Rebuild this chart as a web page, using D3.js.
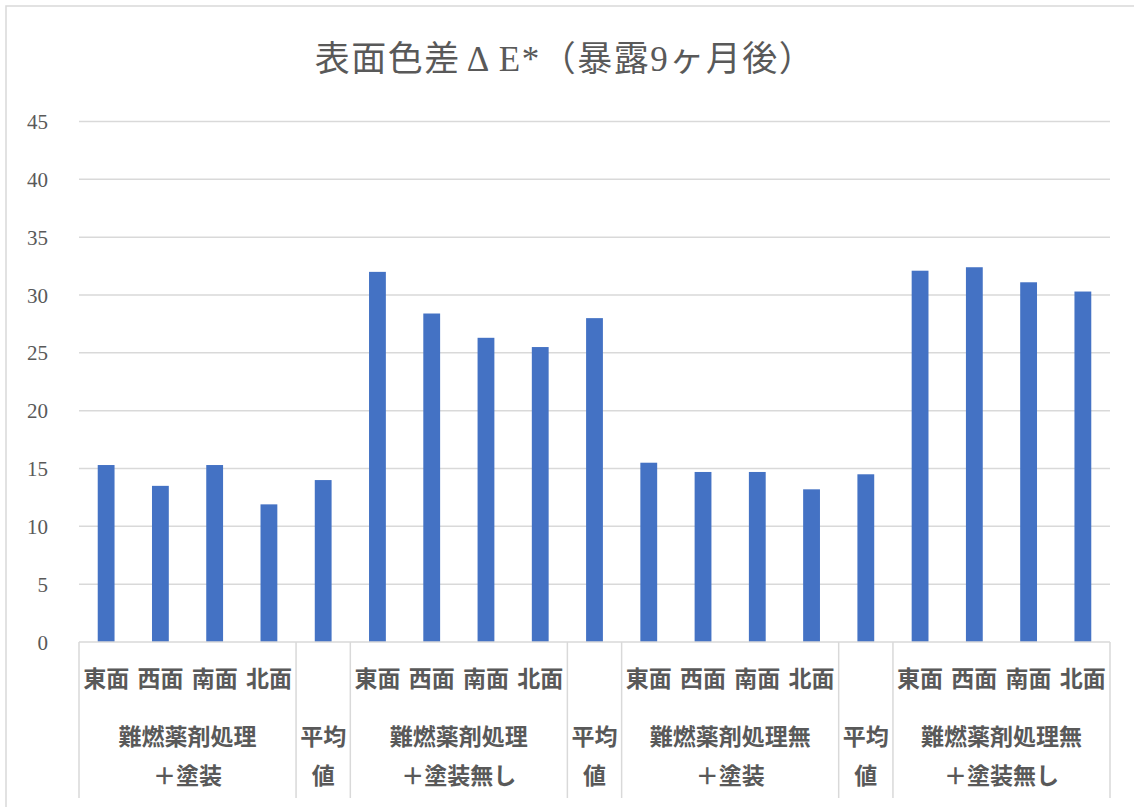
<!DOCTYPE html>
<html lang="ja">
<head>
<meta charset="utf-8">
<script src="https://cdn.jsdelivr.net/npm/d3@7"></script>
<style>
  html, body { margin: 0; padding: 0; background: #fff; }
  svg { display: block; }
  .serif { font-family: "Liberation Serif", "DejaVu Serif", "Noto Sans CJK JP", serif; }
  .sans  { font-family: "Noto Sans CJK JP", "Noto Sans", sans-serif; }
</style>
</head>
<body>
<svg id="chart" width="1134" height="807"></svg>
<script>
// ---- data ----
const titleParts = ["表面色差", "Δ", "E*（暴露9ヶ月後）"];
const faceLabels = ["東面","西面","南面","北面","",
                    "東面","西面","南面","北面","",
                    "東面","西面","南面","北面","",
                    "東面","西面","南面","北面"];
const values = [15.3, 13.5, 15.3, 11.9, 14.0,
                32.0, 28.4, 26.3, 25.5, 28.0,
                15.5, 14.7, 14.7, 13.2, 14.5,
                32.1, 32.4, 31.1, 30.3];
const groupNames = [["難燃薬剤処理", "＋塗装"],
                    ["平均", "値"],
                    ["難燃薬剤処理", "＋塗装無し"],
                    ["平均", "値"],
                    ["難燃薬剤処理無", "＋塗装"],
                    ["平均", "値"],
                    ["難燃薬剤処理無", "＋塗装無し"]];
const groupSizes = [4, 1, 4, 1, 4, 1, 4];
const yTicks = [0, 5, 10, 15, 20, 25, 30, 35, 40, 45];

// ---- layout ----
const W = 1134, H = 807;
const plot = { left: 79, right: 1110, top: 121.5, bottom: 642 };
const axisBottom = 798;
const textColor = "#595959";
const lineColor = "#d9d9d9";
const barColor = "#4472C4";

const svg = d3.select("#chart");

// chart frame
svg.append("rect")
  .attr("x", 6).attr("y", 6)
  .attr("width", W + 20).attr("height", H + 20)
  .attr("fill", "#fff")
  .attr("stroke", lineColor).attr("stroke-width", 1.5);

// title
const titleText = svg.append("text")
  .attr("class", "serif")
  .attr("x", 565).attr("y", 71)
  .attr("text-anchor", "middle")
  .attr("font-size", 35)
  .attr("letter-spacing", 1.5)
  .attr("fill", textColor);
titleText.append("tspan").text(titleParts[0]);
titleText.append("tspan").attr("dx", 6).text(titleParts[1]);
titleText.append("tspan").attr("dx", 8).text(titleParts[2]);

const keys = values.map((_, i) => i);
const x = d3.scaleBand().domain(keys).range([plot.left, plot.right]).padding(0);
const y = d3.scaleLinear().domain([0, 45]).range([plot.bottom, plot.top]);

// gridlines
svg.append("g")
  .selectAll("line")
  .data(yTicks.filter(t => t > 0))
  .join("line")
  .attr("x1", plot.left).attr("x2", plot.right)
  .attr("y1", d => y(d)).attr("y2", d => y(d))
  .attr("stroke", lineColor).attr("stroke-width", 1.5);

// y axis labels
const yAxis = d3.axisLeft(y).tickValues(yTicks).tickSize(0).tickPadding(0);
const yg = svg.append("g")
  .attr("transform", `translate(${plot.left - 31},0)`)
  .call(yAxis);
yg.select(".domain").remove();
yg.selectAll("text")
  .attr("class", "serif")
  .attr("font-size", 21)
  .attr("fill", textColor)
  .attr("dy", "0.34em");

// bars
const barW = x.bandwidth() * 0.31;
svg.append("g")
  .selectAll("rect")
  .data(values)
  .join("rect")
  .attr("x", (d, i) => x(i) + (x.bandwidth() - barW) / 2)
  .attr("width", barW)
  .attr("y", d => y(d))
  .attr("height", d => y(0) - y(d))
  .attr("fill", barColor);

// category axis: baseline and group separators
const axisG = svg.append("g");
axisG.append("line")
  .attr("x1", plot.left).attr("x2", plot.right)
  .attr("y1", y(0)).attr("y2", y(0))
  .attr("stroke", lineColor).attr("stroke-width", 1.5);

const groupStarts = [];
let acc = 0;
groupSizes.forEach(s => { groupStarts.push(acc); acc += s; });
const bounds = groupStarts.map(s => x(s)).concat([x(values.length - 1) + x.bandwidth()]);

axisG.selectAll("line.sep")
  .data(bounds)
  .join("line")
  .attr("class", "sep")
  .attr("x1", d => d).attr("x2", d => d)
  .attr("y1", y(0)).attr("y2", axisBottom)
  .attr("stroke", lineColor).attr("stroke-width", 1.5);

// face labels (first level)
axisG.selectAll("text.face")
  .data(faceLabels)
  .join("text")
  .attr("class", "face sans")
  .attr("x", (d, i) => x(i) + x.bandwidth() / 2)
  .attr("y", 687)
  .attr("text-anchor", "middle")
  .attr("font-size", 23)
  .attr("font-weight", 700)
  .attr("fill", textColor)
  .text(d => d);

// group labels (second level)
groupNames.forEach((lines, gi) => {
  const start = groupStarts[gi];
  const cx = (x(start) + x(start + groupSizes[gi] - 1) + x.bandwidth()) / 2;
  lines.forEach((t, li) => {
    axisG.append("text")
      .attr("class", "sans")
      .attr("x", cx)
      .attr("y", 745 + li * 39)
      .attr("text-anchor", "middle")
      .attr("font-size", 23)
      .attr("font-weight", 700)
      .attr("fill", textColor)
      .text(t);
  });
});
</script>
</body>
</html>
